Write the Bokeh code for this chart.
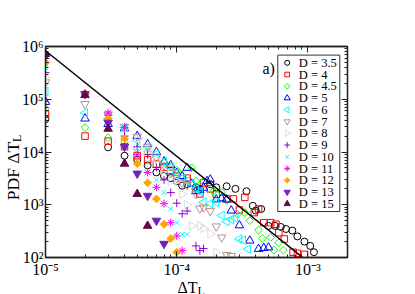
from math import pi
from bokeh.plotting import figure
from bokeh.models import Label, LogAxis, FixedTicker, Range1d, LinearScale
from bokeh.core.properties import value
from bokeh.embed import file_html
from bokeh.resources import INLINE

# ---------------- data ----------------
series_labels = ["D = 3.5", "D = 4", "D = 4.5", "D = 5", "D = 6", "D = 7", "D = 8",
                 "D = 9", "D = 10", "D = 11", "D = 12", "D = 13", "D = 15"]

dT_35 = [1e-5, 3e-5, 4e-5, 5e-5, 6e-5, 7e-5, 8e-5, 9e-5, 1.0e-4, 1.1e-4, 1.2e-4, 1.4e-4, 1.5e-4,
         1.8e-4, 2.0e-4, 2.4e-4, 2.8e-4, 3.4e-4, 3.8e-4, 4.0e-4, 4.4e-4, 5.0e-4, 5.6e-4, 6.2e-4,
         6.8e-4, 7.6e-4, 8.3e-4, 9.4e-4, 1.04e-3, 1.11e-3]
pdf_35 = [4.2e4, 1.23e4, 8.5e3, 7.1e3, 5.6e3, 4.1e3, 3.5e3, 3.2e3, 2.8e3, 2.3e3, 2.45e3, 2.14e3, 2.0e3,
          2.45e3, 2.14e3, 2.24e3, 2.0e3, 1.8e3, 955, 775, 830, 398, 398, 380,
          347, 324, 251, 200, 166, 126]

dT_4 = [1e-5, 2e-5, 3e-5, 4e-5, 5e-5, 6e-5, 7e-5, 8e-5, 9e-5, 1.0e-4, 1.2e-4, 1.4e-4, 1.5e-4, 1.6e-4,
        1.8e-4, 2.0e-4, 2.4e-4, 2.7e-4, 3.0e-4, 3.3e-4, 3.9e-4, 4.2e-4, 4.6e-4, 5.2e-4, 5.7e-4,
        6.0e-4, 6.6e-4, 7.7e-4, 8.3e-4, 9.4e-4]
pdf_4 = [5.2e4, 2.0e4, 1.6e4, 1.26e4, 8.5e3, 7.1e3, 5.9e3, 5.1e3, 4.5e3, 3.5e3, 3.2e3, 1.9e3, 1.6e3, 2.6e3,
         2.0e3, 1.58e3, 1.29e3, 1.29e3, 795, 1.38e3, 710, 830, 457, 457, 427,
         295, 224, 126, 120, 115]

dT_45 = [1e-5, 2e-5, 3e-5, 4e-5, 5e-5, 6e-5, 7e-5, 8e-5, 9e-5, 1.0e-4, 1.1e-4, 1.3e-4, 1.4e-4, 1.6e-4,
         1.9e-4, 2.2e-4, 2.4e-4, 2.9e-4, 3.3e-4, 3.6e-4, 4.2e-4, 4.5e-4, 5.2e-4, 5.5e-4, 6.0e-4, 6.5e-4]
pdf_45 = [6.6e4, 2.9e4, 1.86e4, 1.58e4, 1.15e4, 1.0e4, 7.9e3, 6.3e3, 5.2e3, 4.5e3, 3.5e3, 5.0e3, 2.8e3, 2.8e3,
          1.8e3, 1.74e3, 1.2e3, 660, 710, 500, 331, 229, 240, 138, 190, 138]

dT_5 = [1e-5, 2e-5, 3e-5, 4e-5, 5e-5, 6e-5, 7e-5, 8e-5, 9e-5, 1.0e-4, 1.1e-4, 1.2e-4, 1.3e-4, 1.4e-4,
        1.5e-4, 1.6e-4, 1.7e-4, 1.8e-4, 2.0e-4, 2.2e-4, 2.4e-4, 2.6e-4, 3.0e-4, 3.6e-4, 4.2e-4,
        4.6e-4, 5.0e-4]
pdf_5 = [8.9e4, 4.3e4, 3.4e4, 2.8e4, 2.0e4, 1.4e4, 1.0e4, 6.6e3, 5.6e3, 4.0e3, 3.5e3, 5.0e3, 2.5e3, 1.8e3,
         1.9e3, 2.1e3, 2.8e3, 3.0e3, 1.26e3, 1.32e3, 1.26e3, 775, 407, 209, 145,
         151, 155]

dT_6 = [1e-5, 2e-5, 3e-5, 4e-5, 5e-5, 6e-5, 7e-5, 8e-5, 9e-5, 1.0e-4, 1.1e-4, 1.2e-4, 1.3e-4, 1.4e-4,
        1.5e-4, 1.6e-4, 1.8e-4, 2.0e-4, 2.2e-4, 2.4e-4, 2.6e-4, 2.8e-4, 3.0e-4, 3.2e-4, 3.5e-4]
pdf_6 = [1.4e5, 5.5e4, 4.2e4, 2.9e4, 1.66e4, 1.26e4, 9.1e3, 6.6e3, 5.2e3, 4.0e3, 3.2e3, 2.8e3, 2.5e3, 2.0e3,
         1.78e3, 1.12e3, 1.05e3, 1.12e3, 630, 480, 525, 560, 224, 214, 145]

dT_7 = [1e-5, 2e-5, 3e-5, 4e-5, 5e-5, 6e-5, 7e-5, 8e-5, 9e-5, 1.0e-4, 1.1e-4, 1.2e-4, 1.4e-4, 1.5e-4,
        1.6e-4, 1.8e-4, 2.0e-4, 2.2e-4, 2.4e-4, 2.6e-4]
pdf_7 = [2.1e5, 8.1e4, 5.2e4, 3.0e4, 1.95e4, 1.23e4, 7.9e3, 5.6e3, 4.0e3, 3.2e3, 2.6e3, 2.4e3, 1.6e3, 850,
         890, 760, 389, 240, 112, 107]

dT_8 = [1e-5, 2e-5, 3e-5, 4e-5, 5e-5, 6e-5, 7e-5, 8e-5, 9e-5, 1.0e-4, 1.1e-4, 1.2e-4, 1.3e-4, 1.5e-4,
        1.6e-4, 1.8e-4, 2.0e-4]
pdf_8 = [2.6e5, 1.26e5, 5.0e4, 2.8e4, 1.78e4, 1.12e4, 7.1e3, 4.5e3, 2.8e3, 2.8e3, 1.58e3, 1.0e3, 398, 398,
         355, 282, 126]

dT_9 = [1e-5, 2e-5, 3e-5, 4e-5, 5e-5, 6e-5, 7e-5, 8e-5, 9e-5, 1.0e-4, 1.1e-4, 1.2e-4, 1.4e-4, 1.5e-4, 1.6e-4]
pdf_9 = [3.2e5, 1.26e5, 5.0e4, 2.0e4, 1.26e4, 8.9e3, 5.1e3, 2.95e3, 1.7e3, 1.07e3, 675, 760, 166, 135, 148]

dT_10 = [1e-5, 2e-5, 3e-5, 4e-5, 5e-5, 6e-5, 7e-5, 8e-5, 9e-5, 1.0e-4, 1.1e-4, 1.2e-4]
pdf_10 = [4.0e5, 1.26e5, 4.9e4, 2.8e4, 1.17e4, 6.3e3, 2.95e3, 1.7e3, 830, 457, 275, 275]

dT_11 = [1e-5, 2e-5, 3e-5, 4e-5, 5e-5, 6e-5, 7e-5, 8e-5, 9e-5, 1.0e-4, 1.1e-4]
pdf_11 = [5.9e5, 1.26e5, 5.5e4, 2.9e4, 8.9e3, 4.1e3, 2.14e3, 1.05e3, 457, 257, 135]

dT_12 = [1e-5, 2e-5, 3e-5, 4e-5, 5e-5, 6e-5, 7e-5, 8e-5, 9e-5, 1.0e-4]
pdf_12 = [4.9e5, 1.3e5, 4.3e4, 1.78e4, 6.0e3, 2.6e3, 1.29e3, 427, 229, 126]

dT_13 = [1e-5, 2e-5, 3e-5, 4e-5, 5e-5, 6e-5, 7e-5, 8e-5]
pdf_13 = [6.6e5, 1.26e5, 3.6e4, 1.26e4, 3.9e3, 1.48e3, 500, 182]

dT_15 = [1e-5, 2e-5, 3e-5, 4e-5, 5e-5, 6e-5]
pdf_15 = [7.2e5, 1.2e5, 2.75e4, 6.0e3, 1.6e3, 398]

# power-law guide line
line_dT = [1e-5, 1e-3]
line_pdf = [8.3e5, 83]

x_major_ticks = [1e-5, 1e-4, 1e-3]
x_tick_labels = ["10\u207b\u2075", "10\u207b\u2074", "10\u207b\u00b3"]
y_major_ticks = [1e2, 1e3, 1e4, 1e5, 1e6]
y_tick_labels = ["10\u00b2", "10\u00b3", "10\u2074", "10\u2075", "10\u2076"]

# ---------------- figure ----------------
SERIF = "Liberation Serif"
FW, FH = 302, 211           # plot-frame size in pixels
p = figure(width=408, height=294, x_axis_type="log", y_axis_type="log",
           x_range=(1e-5, 2e-3), y_range=(1e2, 1e6),
           output_backend="svg", toolbar_location=None,
           min_border_left=45, min_border_right=61, min_border_top=46, min_border_bottom=37)
p.grid.visible = False
p.outline_line_color = "#222222"
p.outline_line_width = 1.3
p.extra_x_ranges = {"px": Range1d(0, FW)}
p.extra_y_ranges = {"px": Range1d(0, FH)}
p.extra_x_scales = {"px": LinearScale()}
p.extra_y_scales = {"px": LinearScale()}

x_minor = [m * t for t in [1e-5, 1e-4, 1e-3] for m in range(2, 10) if m * t <= 2e-3]
y_minor = [m * t for t in [1e2, 1e3, 1e4, 1e5] for m in range(2, 10)]


def style_axis(ax, major, minor, labels=None):
    ax.ticker = FixedTicker(ticks=major, minor_ticks=minor)
    if labels is None:
        ax.major_label_text_font_size = "2px"
        ax.major_label_text_color = None
        ax.major_label_standoff = 0
    else:
        ax.major_label_overrides = dict(zip(major, labels))
        ax.major_label_text_font = SERIF
        ax.major_label_text_font_size = "16px"
        ax.major_label_text_color = "black"
    ax.major_tick_in = 6
    ax.major_tick_out = 0
    ax.minor_tick_in = 3
    ax.minor_tick_out = 0
    ax.axis_line_color = "#222222"
    ax.axis_line_width = 1.3
    ax.major_tick_line_color = "#222222"
    ax.minor_tick_line_color = "#222222"


style_axis(p.xaxis[0], x_major_ticks, x_minor, x_tick_labels)
p.xaxis[0].major_label_standoff = 3
style_axis(p.yaxis[0], y_major_ticks, y_minor, y_tick_labels)
p.yaxis[0].major_label_standoff = 2
top_ax = LogAxis()
right_ax = LogAxis()
style_axis(top_ax, x_major_ticks, x_minor)
style_axis(right_ax, y_major_ticks, y_minor)
p.add_layout(top_ax, "above")
p.add_layout(right_ax, "right")

# ---------------- markers ----------------
specs = [
    (dT_35, pdf_35, "circle", "#000000", False, 7, 0),
    (dT_4, pdf_4, "square", "#ff0000", False, 6.5, 0),
    (dT_45, pdf_45, "square", "#00ff00", False, 5.5, pi / 4),
    (dT_5, pdf_5, "triangle", "#0000ff", False, 8.5, 0),
    (dT_6, pdf_6, "triangle", "#00ffff", False, 8.5, pi / 2),
    (dT_7, pdf_7, "inverted_triangle", "#bc8f8f", False, 8.5, 0),
    (dT_8, pdf_8, "triangle", "#dcdcdc", False, 8.5, -pi / 2),
    (dT_9, pdf_9, "cross", "#9400d3", False, 8, 0),
    (dT_10, pdf_10, "x", "#00ffff", False, 7, 0),
    (dT_11, pdf_11, "asterisk", "#ff00ff", False, 8, 0),
    (dT_12, pdf_12, "square", "#ffa500", True, 5.5, pi / 4),
    (dT_13, pdf_13, "inverted_triangle", "#7221bc", True, 8.5, 0),
    (dT_15, pdf_15, "triangle", "#670748", True, 8.5, 0),
]

for xs, ys, mk, col, filled, sz, ang in specs:
    p.scatter(xs, ys, marker=mk, size=sz, angle=ang,
              line_color=col, line_width=1,
              fill_color=col if filled else None)

p.line(line_dT, line_pdf, line_color="black", line_width=1.5)

# ---------------- legend (boxed, compact rows as in the original) ----------------
LEG_L, LEG_R, LEG_B, LEG_T = 232.3, 294.3, 46.0, 202.4
ROW0, PITCH = 194.7, 11.75
MK_X, TXT_X = 241.7, 253.3
p.quad(left=[LEG_L], right=[LEG_R], bottom=[LEG_B], top=[LEG_T],
       x_range_name="px", y_range_name="px",
       fill_color="white", line_color="#333333", line_width=1)
rows_y = [ROW0 - i * PITCH for i in range(len(series_labels))]
for (xs, ys, mk, col, filled, sz, ang), yy in zip(specs, rows_y):
    p.scatter([MK_X], [yy], marker=mk, size=sz * 0.72, angle=ang,
              line_color=col, line_width=1, fill_color=col if filled else None,
              x_range_name="px", y_range_name="px")
p.text(x=[TXT_X] * len(series_labels), y=rows_y, text=series_labels,
       x_range_name="px", y_range_name="px",
       text_font=value(SERIF), text_font_size=value("12.5px"),
       text_baseline="middle", text_align="left", text_color="black")

# ---------------- texts ----------------
xmin, xmax = 1e-5, 2e-3
ymin, ymax = 1e2, 1e6

# y axis title "PDF ΔT_L" (kept in a side panel so it is not clipped by the frame)
p.add_layout(Label(x=xmin, y=1e4, x_offset=-33, y_offset=-19, angle=pi / 2,
                   text="PDF ΔT", text_align="center", text_baseline="alphabetic",
                   text_font=SERIF, text_font_size="17.5px", text_color="black"), "right")
p.add_layout(Label(x=xmin, y=1e4, x_offset=-29, y_offset=10, angle=pi / 2,
                   text="L", text_align="left", text_baseline="alphabetic",
                   text_font=SERIF, text_font_size="12px", text_color="black"), "right")

# x axis title "ΔT_L"
xc = 1.414e-4
p.add_layout(Label(x=xc, y=ymin, x_offset=1, y_offset=-30, text="ΔT",
                   text_align="right", text_baseline="alphabetic",
                   text_font=SERIF, text_font_size="16px", text_color="black"), "above")
p.add_layout(Label(x=xc, y=ymin, x_offset=1, y_offset=-33.5, text="L",
                   text_align="left", text_baseline="alphabetic",
                   text_font=SERIF, text_font_size="12px", text_color="black"), "above")

# panel tag
p.add_layout(Label(x=xmax, y=ymax, x_offset=-85, y_offset=-22, text="a)",
                   text_align="left", text_baseline="alphabetic",
                   text_font=SERIF, text_font_size="16px", text_color="black"))

open("out.html", "w").write(file_html(p, INLINE))
